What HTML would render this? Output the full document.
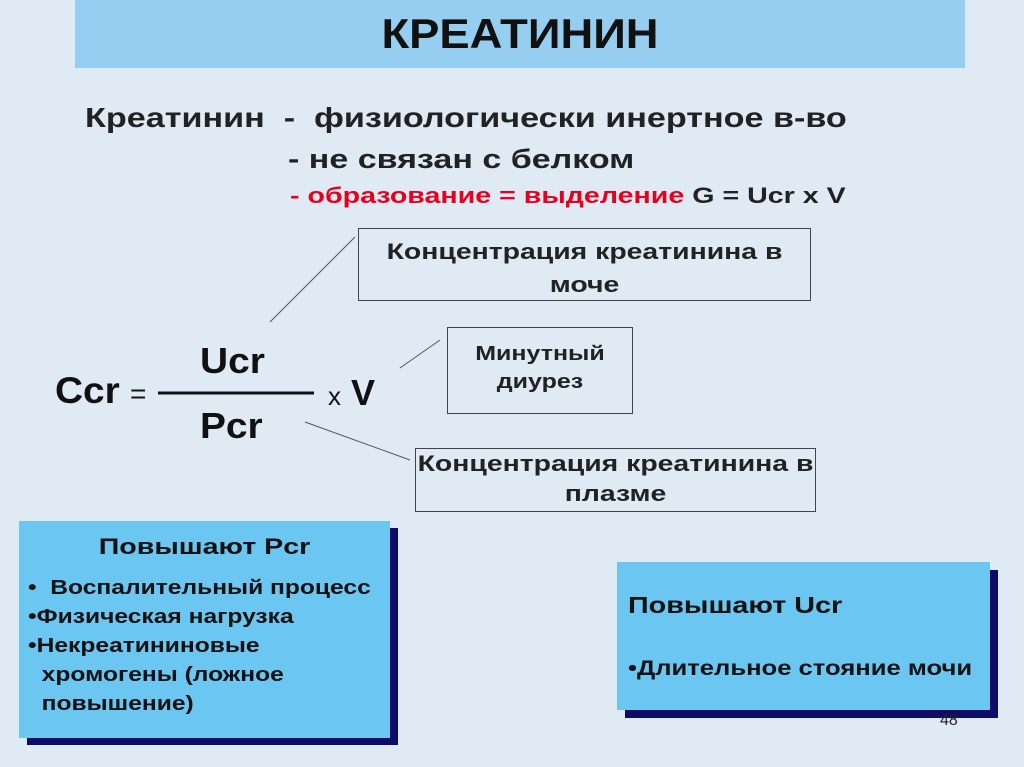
<!DOCTYPE html><html><head><meta charset="utf-8"><style>
body{margin:0;width:1024px;height:767px;overflow:hidden;background:#dfeaf4;font-family:"Liberation Sans","Noto Sans CJK SC",sans-serif;position:relative}
.a{position:absolute;font-weight:bold;color:#111;white-space:nowrap;transform-origin:0 0}
.bx{position:absolute;border:1px solid #444;box-sizing:border-box}
.c{position:absolute;font-weight:bold;color:#222;white-space:nowrap;text-align:center;transform-origin:50% 0}
</style></head><body>
<div style="position:absolute;left:75px;top:0;width:890px;height:68px;background:#96cef2"></div>
<div class="c" style="left:75px;width:890px;top:10px;font-size:42px;color:#111;transform:scaleX(1.08)">КРЕАТИНИН</div>
<div class="a" style="left:85px;top:102px;font-size:28px;color:#222;transform:scaleX(1.22)">Креатинин&nbsp; - &nbsp;физиологически инертное в-во</div>
<div class="a" style="left:288px;top:144px;font-size:27px;color:#222;transform:scaleX(1.26)">- не связан с белком</div>
<div class="a" style="left:290px;top:183px;font-size:22px;color:#e8001c;transform:scaleX(1.3)">- образование = выделение <span style="color:#222">G = Ucr x V</span></div>
<div class="bx" style="left:358px;top:228px;width:453px;height:73px"></div>
<div class="c" style="left:358px;width:453px;top:235px;font-size:22px;line-height:33px;transform:scaleX(1.29)">Концентрация креатинина в<br>моче</div>
<div class="bx" style="left:447px;top:327px;width:186px;height:87px"></div>
<div class="c" style="left:447px;width:186px;top:340px;font-size:20px;line-height:28px;transform:scaleX(1.25)">Минутный<br>диурез</div>
<div class="bx" style="left:415px;top:448px;width:401px;height:64px"></div>
<div class="c" style="left:415px;width:401px;top:449px;font-size:22px;line-height:30px;transform:scaleX(1.29)">Концентрация креатинина в<br>плазме</div>
<svg style="position:absolute;left:0;top:0" width="1024" height="767">
<line x1="270" y1="322" x2="355" y2="237" stroke="#555"/>
<line x1="400" y1="368" x2="440" y2="340" stroke="#555"/>
<line x1="305" y1="422" x2="410" y2="460" stroke="#555"/>
<line x1="158" y1="393" x2="314" y2="393" stroke="#111" stroke-width="3"/>
</svg>
<div class="a" style="left:55px;top:370px;font-size:37px;transform:scaleX(1.05)">Ccr</div>
<div class="a" style="left:130px;top:378px;font-size:28px;font-weight:normal">=</div>
<div class="a" style="left:200px;top:340px;font-size:36px;transform:scaleX(1.08)">Ucr</div>
<div class="a" style="left:200px;top:405px;font-size:36px;transform:scaleX(1.08)">Pcr</div>
<div class="a" style="left:328px;top:372px;font-size:36px"><span style="font-weight:normal;font-size:26px">x</span> V</div>
<div style="position:absolute;left:27px;top:528px;width:371px;height:217px;background:#0c0c66"></div>
<div style="position:absolute;left:19px;top:521px;width:371px;height:217px;background:#6cc6f2"></div>
<div class="c" style="left:19px;width:371px;top:534px;font-size:22px;color:#111;transform:scaleX(1.3)">Повышают Pcr</div>
<div class="a" style="left:28px;top:574px;font-size:20px;line-height:29px;transform:scaleX(1.23)">•&nbsp; Воспалительный процесс<br>•Физическая нагрузка<br>•Некреатининовые<br>&nbsp;&nbsp;хромогены (ложное<br>&nbsp;&nbsp;повышение)</div>
<div style="position:absolute;left:625px;top:570px;width:373px;height:148px;background:#0c0c66"></div>
<div style="position:absolute;left:617px;top:562px;width:373px;height:148px;background:#6cc6f2"></div>
<div class="a" style="left:628px;top:592px;font-size:23px;transform:scaleX(1.25)">Повышают Ucr</div>
<div class="a" style="left:628px;top:657px;font-size:21px;transform:scaleX(1.22)">•Длительное стояние мочи</div>
<div style="position:absolute;left:940px;top:712px;font-size:16px;color:#222">48</div>
</body></html>
